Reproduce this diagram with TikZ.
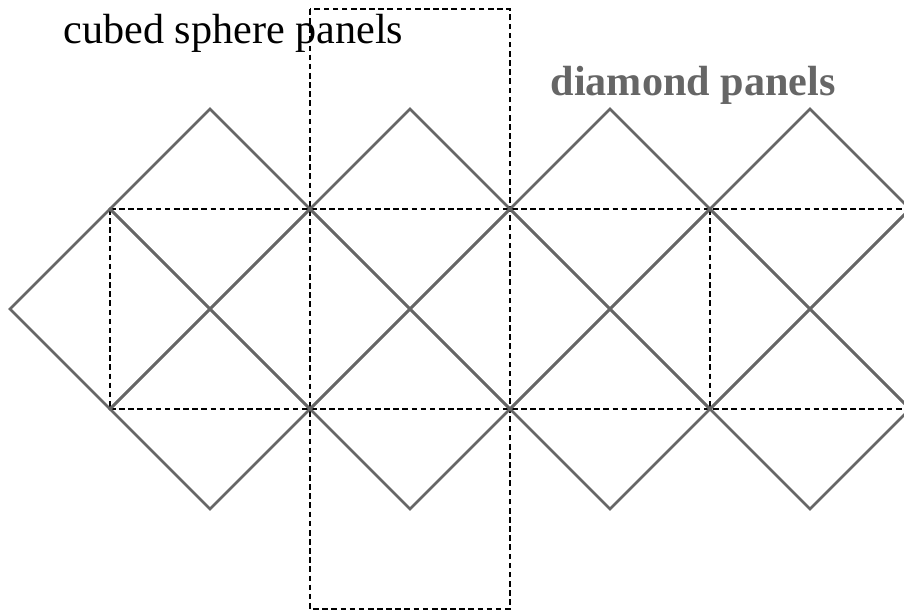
\documentclass[tikz,border=0pt]{standalone}
\usepackage{fontspec}
\setmainfont{Liberation Serif}
\usepackage{tikz}
\definecolor{panelgray}{HTML}{666666}

\begin{document}
\begin{tikzpicture}
 [x=1cm, y=1cm,
  diamond panel/.style={draw=panelgray, line width=0.72pt, line join=miter},
  cube panel/.style={draw=black, line width=0.5pt, dash pattern=on 1.6pt off 1.0pt},
  title node/.style={anchor=base west, inner sep=0pt, font=\fontsize{12}{14}\selectfont}]

\useasboundingbox (0,0) rectangle (9.04,-6.11);
\clip (0,0) rectangle (9.04,-6.11);

% cube net
\draw[cube panel] (1.10,-2.09) -- (9.10,-2.09);
\draw[cube panel] (1.10,-4.09) -- (9.10,-4.09);
\foreach \x in {1.10,7.10,9.10}
  \draw[cube panel] (\x,-2.09) -- (\x,-4.09);
\draw[cube panel] (3.10,-0.09) rectangle (5.10,-6.09);

% diamonds
\foreach \cx in {1.10,3.10,5.10,7.10,9.10}
  \draw[diamond panel] (\cx-1,-3.09) -- (\cx,-2.09) -- (\cx+1,-3.09) -- (\cx,-4.09) -- cycle;
\foreach \cx in {2.10,4.10,6.10,8.10}
 \foreach \cy in {-2.09,-4.09}
  \draw[diamond panel] (\cx-1,\cy) -- (\cx,\cy+1) -- (\cx+1,\cy) -- (\cx,\cy-1) -- cycle;

\node[title node] (cubed) at (0.63,-0.43) {cubed sphere panels};
\node[title node, text=panelgray, font=\fontsize{12}{14}\selectfont\bfseries] (diamond) at (5.50,-0.95) {diamond panels};

\end{tikzpicture}
\end{document}
